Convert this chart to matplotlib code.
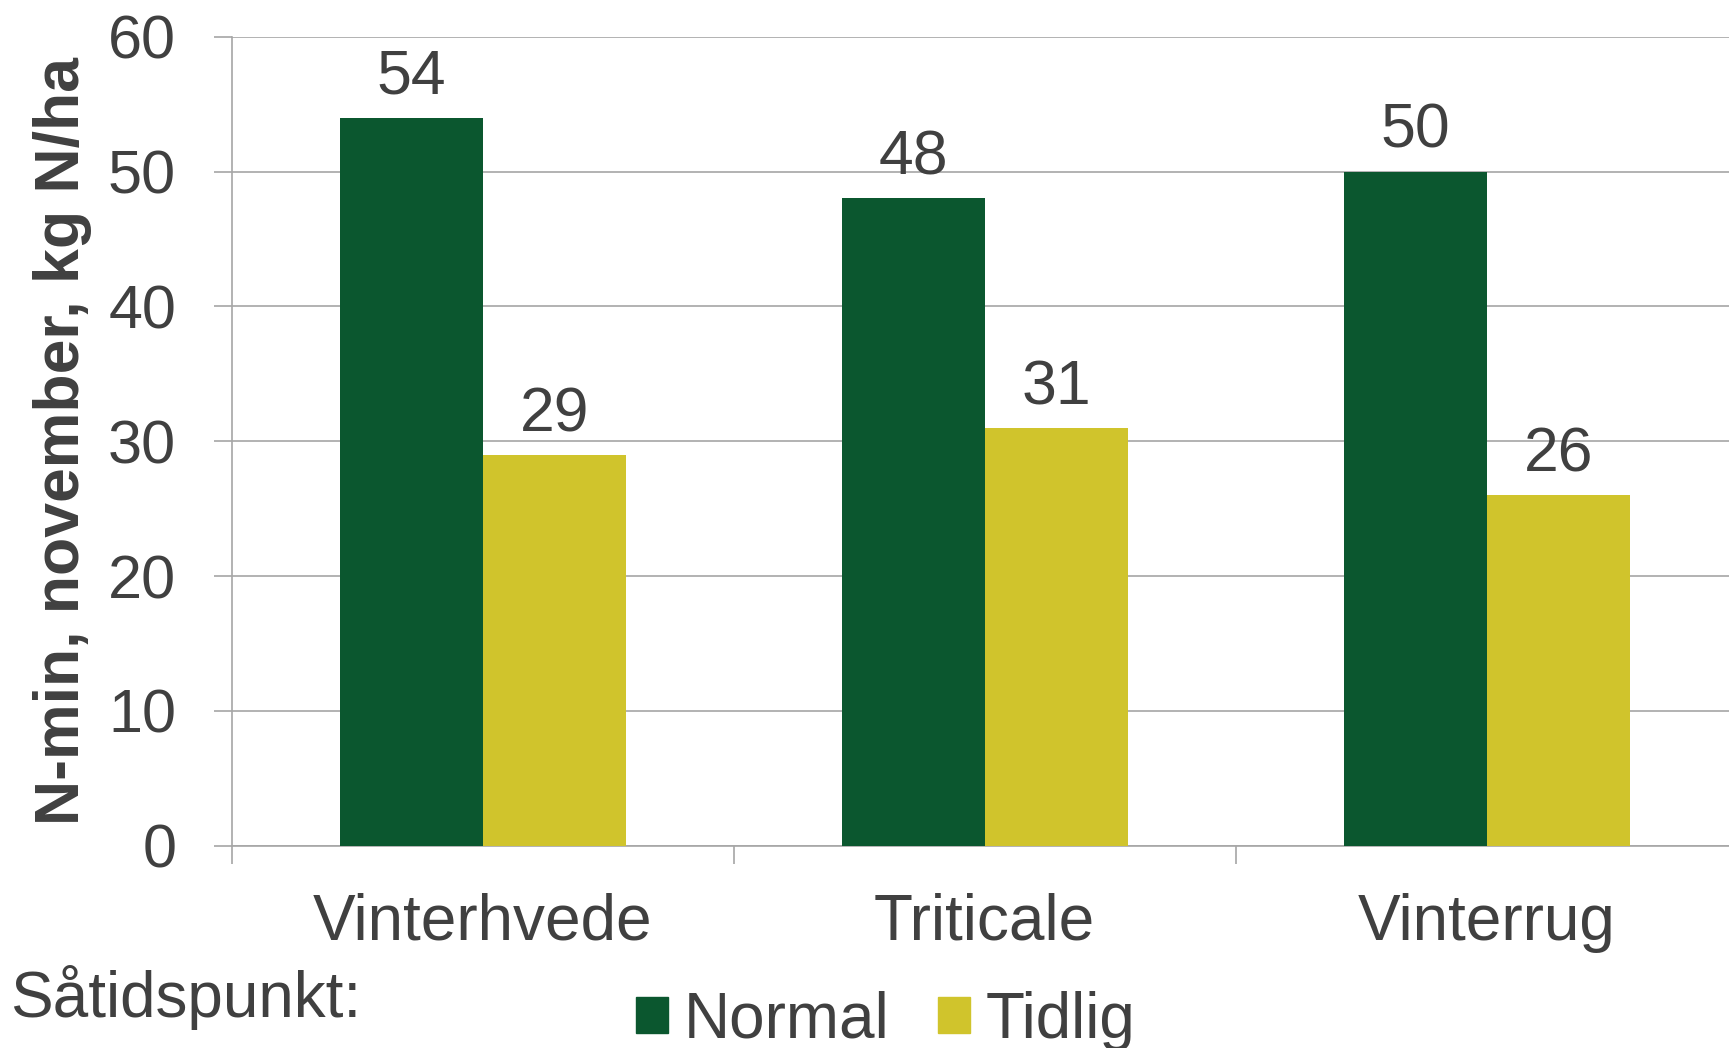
#! /usr/bin/env python

import numpy as np
import matplotlib.pyplot as plt
from matplotlib.patches import Patch

# data
categories = ['Vinterhvede', 'Triticale', 'Vinterrug']
normal = [54, 48, 50]
tidlig = [29, 31, 26]
series_names = ['Normal', 'Tidlig']
yticks = [0, 10, 20, 30, 40, 50, 60]

green = '#0B572F'
yellow = '#D0C42C'
textcol = '#404040'
gridcol = '#A6A6A6'

plt.rcParams['font.family'] = ['Liberation Sans', 'DejaVu Sans']

fig = plt.figure(figsize=(17.29, 10.48), dpi=100)
ax = fig.add_axes([0.134, 0.193, 0.871, 0.772])

x = np.arange(len(categories))
w = 0.285
b1 = ax.bar(x - w / 2, normal, w, color=green, zorder=3)
b2 = ax.bar(x + w / 2, tidlig, w, color=yellow, zorder=3)

for bars, vals in [(b1, normal), (b2, tidlig)]:
    for r, v in zip(bars, vals):
        ax.annotate(str(v), (r.get_x() + r.get_width() / 2, v),
                    xytext=(0, 17), textcoords='offset points',
                    ha='center', va='baseline', fontsize=45, color=textcol)

ax.set_xlim(-0.5, 2.5)
ax.set_ylim(0, 60)
ax.set_yticks(yticks)
ax.set_yticklabels([str(t) for t in yticks])
ax.yaxis.grid(True, color=gridcol, linewidth=1.2, zorder=0)
ax.set_axisbelow(True)

ax.set_xticks(x)
ax.set_xticklabels(categories)
ax.set_xticks([-0.5, 0.5, 1.5, 2.5], minor=True)
ax.tick_params(axis='x', which='major', length=0, pad=34, labelsize=46,
               labelcolor=textcol)
ax.tick_params(axis='x', which='minor', length=13, width=1.2, color=gridcol,
               direction='out')
ax.tick_params(axis='y', length=13, width=1.2, color=gridcol, pad=27,
               labelsize=44, labelcolor=textcol)

for s in ['top', 'right']:
    ax.spines[s].set_visible(False)
for s in ['left', 'bottom']:
    ax.spines[s].set_color(gridcol)
    ax.spines[s].set_linewidth(1.2)

fig.text(0.036, 0.579, 'N-min, november, kg N/ha', rotation=90,
         ha='center', va='center', fontsize=45, fontweight='bold',
         color=textcol)

fig.text(0.006, 0.048, 'Såtidspunkt:', ha='left', va='center',
         fontsize=46, color=textcol)

handles = [Patch(color=green), Patch(color=yellow)]
fig.legend(handles, series_names, loc='center left',
           bbox_to_anchor=(0.368, 0.026), ncol=2, frameon=False,
           fontsize=46, labelcolor=textcol, handlelength=0.5,
           handleheight=0.5, handletextpad=0.25, columnspacing=0.75,
           borderpad=0, borderaxespad=0)

fig.savefig('out.png', dpi=100)
